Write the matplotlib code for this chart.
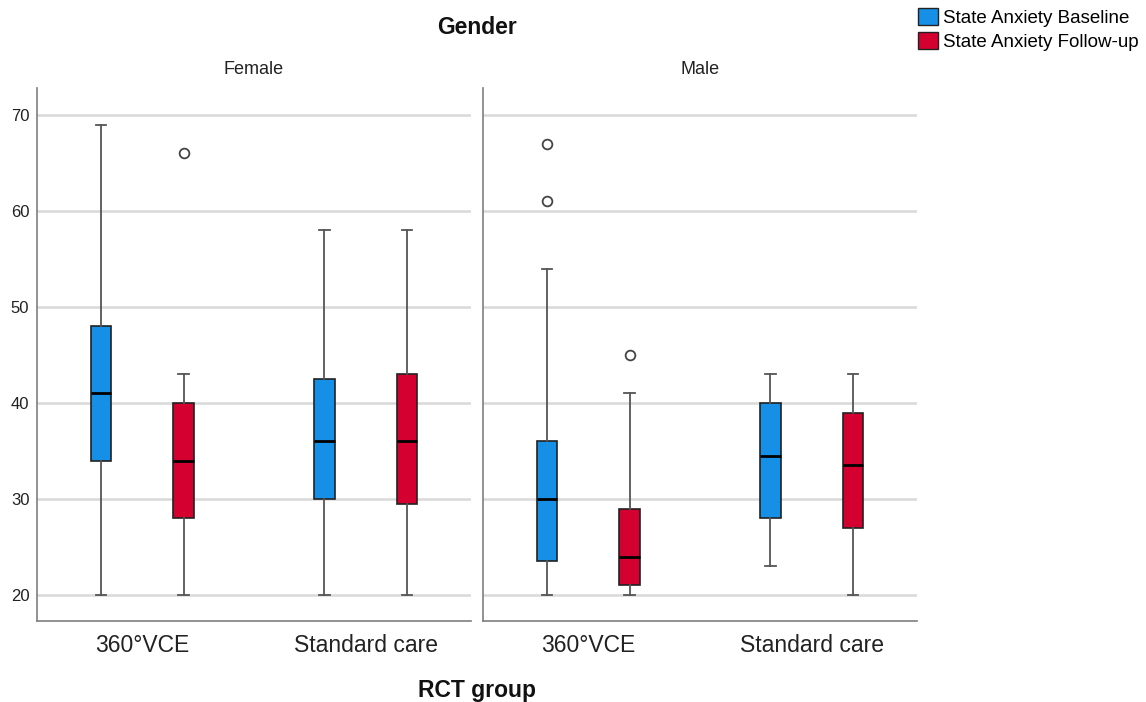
import numpy as np
import matplotlib
matplotlib.use('Agg')
import matplotlib.pyplot as plt
from matplotlib.patches import Patch

plt.rcParams['font.family'] = ['Liberation Sans', 'DejaVu Sans']

BLUE = '#1590e6'
RED = '#d30030'
GRID = '#d9d9d9'
SPINE = '#7f7f7f'

GENDERS = ['Female', 'Male']
GROUPS = ['360°VCE', 'Standard care']
SERIES = ['State Anxiety Baseline', 'State Anxiety Follow-up']

# box stats per gender -> group -> series: (whislo, q1, med, q3, whishi)
WHISLO = {'Female': [[20, 20], [20, 20]], 'Male': [[20, 20], [23, 20]]}
Q1 = {'Female': [[34, 28], [30, 29.5]], 'Male': [[23.5, 21], [28, 27]]}
MED = {'Female': [[41, 34], [36, 36]], 'Male': [[30, 24], [34.5, 33.5]]}
Q3 = {'Female': [[48, 40], [42.5, 43]], 'Male': [[36, 29], [40, 39]]}
WHISHI = {'Female': [[69, 43], [58, 58]], 'Male': [[54, 41], [43, 43]]}
FLIERS = {'Female': [[[], [66]], [[], []]], 'Male': [[[67, 61], [45]], [[], []]]}

W, H = 1146, 702
fig = plt.figure(figsize=(W / 100, H / 100), dpi=100)

panels = [(37, 471), (483, 917)]
top, bot = 88, 621
offsets = [-0.185, 0.185]
colors = [BLUE, RED]

for gi, gender in enumerate(GENDERS):
    x0, x1 = panels[gi]
    ax = fig.add_axes([x0 / W, (H - bot) / H, (x1 - x0) / W, (bot - top) / H])
    for ci in range(len(GROUPS)):
        for si in range(len(SERIES)):
            stats = [dict(whislo=WHISLO[gender][ci][si], q1=Q1[gender][ci][si],
                          med=MED[gender][ci][si], q3=Q3[gender][ci][si],
                          whishi=WHISHI[gender][ci][si],
                          fliers=FLIERS[gender][ci][si])]
            ax.bxp(stats, positions=[ci + offsets[si]], widths=0.09,
                   patch_artist=True, manage_ticks=False,
                   boxprops=dict(facecolor=colors[si], edgecolor='#222222', lw=1.2),
                   medianprops=dict(color='black', lw=2.0),
                   whiskerprops=dict(color='#555555', lw=1.3),
                   capprops=dict(color='#555555', lw=1.3),
                   capwidths=0.045,
                   flierprops=dict(marker='o', markerfacecolor='white',
                                   markeredgecolor='#444444', markersize=7,
                                   markeredgewidth=1.3),
                   zorder=3)
    ax.set_xlim(-0.47, 1.47)
    ax.set_ylim(17.29, 72.81)
    ax.set_yticks([20, 30, 40, 50, 60, 70])
    ax.grid(axis='y', color=GRID, lw=1.8, zorder=0)
    ax.set_axisbelow(True)
    ax.set_xticks(range(len(GROUPS)))
    ax.set_xticklabels(GROUPS, fontsize=16.5, color='#222222')
    ax.tick_params(axis='x', length=0, pad=9)
    ax.tick_params(axis='y', length=0, pad=5.5, labelsize=12, labelcolor='#222222')
    if gi == 1:
        ax.set_yticklabels([])
    for s in ['top', 'right']:
        ax.spines[s].set_visible(False)
    for s in ['left', 'bottom']:
        ax.spines[s].set_color(SPINE)
        ax.spines[s].set_linewidth(1.2)
    fig.text((x0 + x1) / 2 / W, 1 - 70 / H, gender, ha='center', va='center',
             fontsize=13, color='#222222')

fig.text(477 / W, 1 - 28 / H, 'Gender', ha='center', va='center',
         fontsize=16.5, fontweight='bold', color='#111111')
fig.text(477 / W, 1 - 690 / H, 'RCT group', ha='center', va='center',
         fontsize=16.5, fontweight='bold', color='#111111')

handles = [Patch(facecolor=c, edgecolor='#222222', label=l) for c, l in zip(colors, SERIES)]
fig.legend(handles=handles, loc='upper left', bbox_to_anchor=(918 / W, 1 - 8 / H),
           frameon=False, fontsize=13.5, handlelength=1.05, handleheight=1.0,
           handletextpad=0.3, labelspacing=0.3, borderaxespad=0, borderpad=0)

fig.savefig('out.png', dpi=100)
